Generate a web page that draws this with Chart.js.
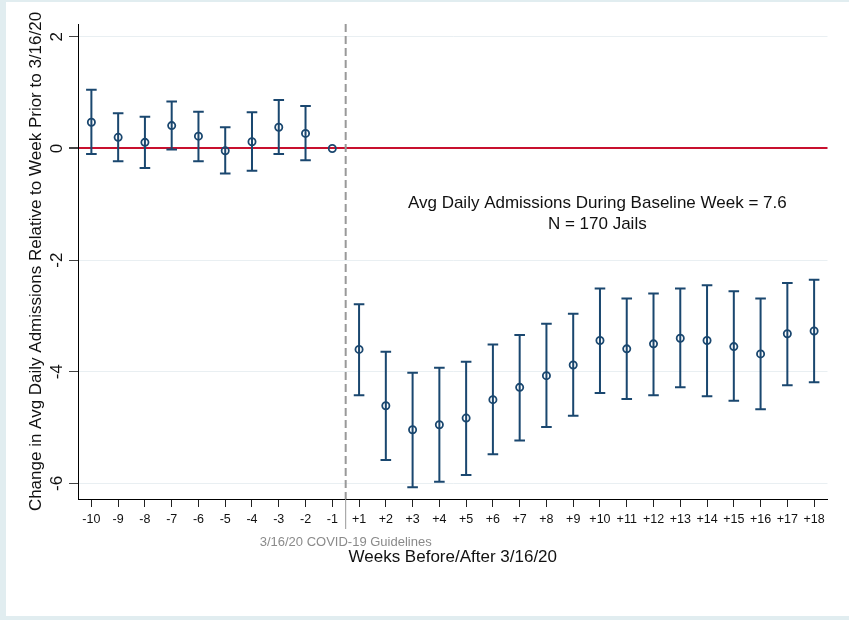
<!DOCTYPE html>
<html>
<head>
<meta charset="utf-8">
<script src="https://cdn.jsdelivr.net/npm/chart.js@4.4.1/dist/chart.umd.min.js"></script>
<style>
  html, body { margin: 0; padding: 0; background: #e1edf0; }
  #wrap { position: absolute; left: 6px; top: 2px; width: 843px; height: 614px; background: #fff; }
  canvas { display: block; }
</style>
</head>
<body>
<div id="wrap"><canvas id="chart" width="843" height="614"></canvas></div>
<script>
// event-study coefficients, weeks relative to 3/16/20 (week -1 is the baseline)
const weekLabels = ['-10', '-9', '-8', '-7', '-6', '-5', '-4', '-3', '-2', '-1',
  '+1', '+2', '+3', '+4', '+5', '+6', '+7', '+8', '+9', '+10',
  '+11', '+12', '+13', '+14', '+15', '+16', '+17', '+18'];
const estimates = [0.47, 0.20, 0.11, 0.41, 0.22, -0.04, 0.12, 0.38, 0.27, 0,
  -3.60, -4.61, -5.04, -4.95, -4.83, -4.50, -4.28, -4.07, -3.88, -3.44,
  -3.59, -3.50, -3.40, -3.44, -3.55, -3.68, -3.32, -3.27];
const ciUpper = [1.05, 0.63, 0.57, 0.84, 0.66, 0.38, 0.65, 0.87, 0.76, null,
  -2.79, -3.64, -4.02, -3.93, -3.82, -3.51, -3.34, -3.14, -2.96, -2.51,
  -2.69, -2.60, -2.51, -2.45, -2.56, -2.69, -2.41, -2.35];
const ciLower = [-0.10, -0.23, -0.35, -0.02, -0.23, -0.45, -0.40, -0.10, -0.21, null,
  -4.42, -5.58, -6.07, -5.97, -5.85, -5.48, -5.23, -4.99, -4.79, -4.38,
  -4.49, -4.42, -4.28, -4.44, -4.52, -4.67, -4.24, -4.19];
const yTicks = [-6, -4, -2, 0, 2];

const noteLines = ['Avg Daily Admissions During Baseline Week = 7.6', 'N = 170 Jails'];
const eventLabel = '3/16/20 COVID-19 Guidelines';

const NAVY = '#1a476f';
const RED = '#c8102e';
const FONT = '"Liberation Sans", Arial, Helvetica, sans-serif';

// error bars, event line, notes and rotated y tick labels
const overlay = {
  id: 'overlay',
  beforeDatasetsDraw(chart) {
    const { ctx, chartArea } = chart;
    const xs = chart.scales.x;
    const ex = (xs.getPixelForValue(9) + xs.getPixelForValue(10)) / 2;
    ctx.save();
    ctx.strokeStyle = '#999';
    ctx.lineWidth = 2;
    ctx.setLineDash([8, 4]);
    ctx.beginPath();
    ctx.moveTo(ex, chartArea.top);
    ctx.lineTo(ex, chartArea.bottom);
    ctx.stroke();
    ctx.setLineDash([]);
    ctx.lineWidth = 1;
    ctx.beginPath();
    ctx.moveTo(ex, chartArea.bottom);
    ctx.lineTo(ex, chartArea.bottom + 30);
    ctx.stroke();
    ctx.restore();
  },
  afterDatasetsDraw(chart) {
    const { ctx, chartArea } = chart;
    const xs = chart.scales.x;
    const ys = chart.scales.y;
    ctx.save();
    ctx.strokeStyle = NAVY;
    ctx.lineWidth = 2;
    estimates.forEach((_, i) => {
      if (ciUpper[i] == null) return;
      const px = xs.getPixelForValue(i);
      const top = ys.getPixelForValue(ciUpper[i]);
      const bot = ys.getPixelForValue(ciLower[i]);
      ctx.beginPath();
      ctx.moveTo(px, top); ctx.lineTo(px, bot);
      ctx.moveTo(px - 5.3, top); ctx.lineTo(px + 5.3, top);
      ctx.moveTo(px - 5.3, bot); ctx.lineTo(px + 5.3, bot);
      ctx.stroke();
    });

    // notes
    ctx.fillStyle = '#111';
    ctx.font = '17px ' + FONT;
    ctx.textAlign = 'center';
    ctx.textBaseline = 'alphabetic';
    const nx = xs.getPixelForValue(18) * 0.1 + xs.getPixelForValue(19) * 0.9;
    ctx.fillText(noteLines[0], nx, ys.getPixelForValue(-1.064));
    ctx.fillText(noteLines[1], nx, ys.getPixelForValue(-1.451));

    const ex = (xs.getPixelForValue(9) + xs.getPixelForValue(10)) / 2;
    ctx.fillStyle = '#8a8a8a';
    ctx.font = '13px ' + FONT;
    ctx.fillText(eventLabel, ex, chartArea.bottom + 47);

    // y tick labels, rotated like Stata's
    ctx.fillStyle = '#111';
    ctx.font = '17px ' + FONT;
    yTicks.forEach((v) => {
      ctx.save();
      ctx.translate(chartArea.left - 16.3, ys.getPixelForValue(v));
      ctx.rotate(-Math.PI / 2);
      ctx.fillText(String(v), 0, 0);
      ctx.restore();
    });
    ctx.restore();
  },
};

new Chart(document.getElementById('chart'), {
  type: 'line',
  data: {
    labels: weekLabels,
    datasets: [{
      data: estimates,
      showLine: false,
      pointRadius: 3.6,
      pointBorderWidth: 1.8,
      pointBorderColor: NAVY,
      pointBackgroundColor: 'rgba(0,0,0,0)',
    }],
  },
  options: {
    responsive: false,
    animation: false,
    layout: { padding: { top: 22, right: 21.5, left: 0, bottom: 0 } },
    plugins: {
      legend: { display: false },
      tooltip: { enabled: false },
    },
    scales: {
      x: {
        type: 'category',
        offset: true,
        grid: { drawOnChartArea: false, drawTicks: true, tickLength: 8, tickColor: '#222' },
        border: { color: '#000', width: 1 },
        ticks: {
          autoSkip: false, maxRotation: 0, minRotation: 0, padding: 5,
          color: '#111', font: { family: FONT, size: 12.5 },
        },
        title: {
          display: true,
          text: 'Weeks Before/After 3/16/20',
          color: '#111',
          font: { family: FONT, size: 17 },
          padding: { top: 0, bottom: 48 },
        },
        afterFit: (s) => { s.height = 117; },
      },
      y: {
        min: -6.28,
        max: 2.23,
        afterBuildTicks: (s) => { s.ticks = yTicks.map((v) => ({ value: v })); },
        ticks: { display: false },
        grid: {
          color: (c) => (c.tick && c.tick.value === 0 ? RED : '#e9eff2'),
          lineWidth: (c) => (c.tick && c.tick.value === 0 ? 2 : 1),
          tickLength: 9,
          tickColor: '#444',
        },
        border: { color: '#000', width: 1 },
        title: {
          display: true,
          text: 'Change in Avg Daily Admissions Relative to Week Prior to 3/16/20',
          color: '#111',
          font: { family: FONT, size: 17 },
          padding: { top: 20, bottom: 0 },
        },
        afterFit: (s) => { s.width = 72; },
      },
    },
  },
  plugins: [overlay],
});
</script>
</body>
</html>
